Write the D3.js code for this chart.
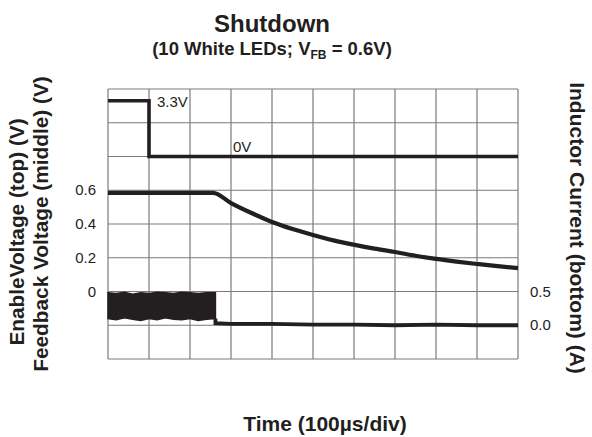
<!DOCTYPE html>
<html><head><meta charset="utf-8">
<script src="https://cdn.jsdelivr.net/npm/d3@7"></script>
<style>
html,body{margin:0;padding:0;background:#fff;}
svg text{font-family:"Liberation Sans",Arial,sans-serif;fill:#231f20;}
</style></head>
<body><svg id="c" width="592" height="437"></svg>
<script>
// ---- data (time in µs, 100 µs/div) ----
const gridTimes = [0,100,200,300,400,500,600,700,800,900,1000];
const enableTime = [0, 100, 100, 1000];
const enableVolt = [3.3, 3.3, 0, 0];
const fbTime = [0, 100, 200, 256, 300, 350, 400, 450, 500, 550, 602, 650, 700, 750, 800, 850, 900, 950, 1000];
const fbVolt = [0.585, 0.585, 0.585, 0.585, 0.524, 0.465, 0.412, 0.37, 0.335, 0.303, 0.276, 0.254, 0.234, 0.212, 0.193, 0.177, 0.163, 0.15, 0.139];
const burstTime = [0,20,40,60,80,100,120,140,160,180,200,220,240,262];
const burstHigh = [0.48,0.47,0.49,0.46,0.48,0.47,0.49,0.48,0.47,0.49,0.48,0.47,0.48,0.48];
const burstLow  = [0.10,0.08,0.11,0.09,0.07,0.10,0.08,0.11,0.09,0.08,0.10,0.07,0.09,0.10];
const offTime = [262, 300, 400, 500, 600, 700, 800, 900, 1000];
const offCurrent = [0.03, 0.02, 0.02, 0.01, 0.01, 0.0, 0.01, 0.0, 0.0];
const leftTicks = [0, 0.2, 0.4, 0.6];
const leftTickLabels = ["0", "0.2", "0.4", "0.6"];
const rightTicks = [0, 0.5];
const rightTickLabels = ["0.0", "0.5"];

const svg = d3.select("#c");
const L = 108, R = 518, T = 89, B = 359;
const x = d3.scaleLinear().domain([0,1000]).range([L,R]);
const yFB = d3.scaleLinear().domain([-0.4,1.2]).range([B,T]);
const yEN = d3.scaleLinear().domain([-12,4]).range([B,T]);
const yI  = d3.scaleLinear().domain([-0.5,3.5]).range([B,T]);
const gridDivs = d3.range(0,9);
const yDiv = d3.scaleLinear().domain([0,8]).range([T,B]);

// grid
const g = svg.append("g");
g.selectAll("line.v").data(gridTimes).join("line")
  .attr("x1", d=>x(d)).attr("x2", d=>x(d)).attr("y1",T).attr("y2",B)
  .attr("stroke","#7a7a7a").attr("stroke-width",1.2);
g.selectAll("line.h").data(gridDivs).join("line")
  .attr("y1", d=>yDiv(d)).attr("y2", d=>yDiv(d)).attr("x1",L).attr("x2",R)
  .attr("stroke","#7a7a7a").attr("stroke-width",1.2);

const ink = "#231f20";
// enable trace
const enData = enableTime.map((t,i)=>[t,enableVolt[i]]);
svg.append("path").attr("d", d3.line().x(d=>x(d[0])).y(d=>yEN(d[1]))(enData))
  .attr("fill","none").attr("stroke",ink).attr("stroke-width",3.6);
// feedback trace
const fbData = fbTime.map((t,i)=>[t,fbVolt[i]]);
svg.append("path").attr("d", d3.line().curve(d3.curveMonotoneX).x(d=>x(d[0])).y(d=>yFB(d[1]))(fbData))
  .attr("fill","none").attr("stroke",ink).attr("stroke-width",4.2);
// inductor current burst
const bData = burstTime.map((t,i)=>[t,burstHigh[i],burstLow[i]]);
svg.append("path").attr("d", d3.area().x(d=>x(d[0])).y0(d=>yI(d[2])).y1(d=>yI(d[1]))(bData))
  .attr("fill",ink).attr("stroke",ink).attr("stroke-width",1.5);
const oData = [[burstTime[burstTime.length-1], burstLow[burstLow.length-1]]].concat(offTime.map((t,i)=>[t,offCurrent[i]]));
svg.append("path").attr("d", d3.line().x(d=>x(d[0])).y(d=>yI(d[1]))(oData))
  .attr("fill","none").attr("stroke",ink).attr("stroke-width",3.8);

// tick labels
svg.selectAll("text.lt").data(leftTicks).join("text")
  .attr("x", 96).attr("y", d=>yFB(d)+5).attr("text-anchor","end")
  .attr("font-size",15).text((d,i)=>leftTickLabels[i]);
svg.selectAll("text.rt").data(rightTicks).join("text")
  .attr("x", 530).attr("y", d=>yI(d)+5).attr("text-anchor","start")
  .attr("font-size",15).text((d,i)=>rightTickLabels[i]);

// trace labels
svg.append("text").attr("x", 157).attr("y", yEN(3.3)+6).attr("font-size",15).text("3.3V");
svg.append("text").attr("x", 233).attr("y", yEN(0)-5).attr("font-size",15).text("0V");

// titles
svg.append("text").attr("x",272).attr("y",32).attr("text-anchor","middle")
  .attr("font-size",24).attr("font-weight","bold").text("Shutdown");
const st = svg.append("text").attr("x",272).attr("y",55).attr("text-anchor","middle")
  .attr("font-size",18.5).attr("font-weight","bold");
st.append("tspan").text("(10 White LEDs; V");
st.append("tspan").attr("font-size",12).attr("dy",4).text("FB");
st.append("tspan").attr("dy",-4).text(" = 0.6V)");

svg.append("text").attr("x",325).attr("y",431).attr("text-anchor","middle")
  .attr("font-size",21).attr("font-weight","bold").text("Time (100µs/div)");

svg.append("text").attr("transform","translate(24,232) rotate(-90)").attr("text-anchor","middle")
  .attr("font-size",20.8).attr("font-weight","bold").text("EnableVoltage (top) (V)");
svg.append("text").attr("transform","translate(48,224) rotate(-90)").attr("text-anchor","middle")
  .attr("font-size",20.8).attr("font-weight","bold").text("Feedback Voltage (middle) (V)");
svg.append("text").attr("transform","translate(570,228) rotate(90)").attr("text-anchor","middle")
  .attr("font-size",21).attr("font-weight","bold").text("Inductor Current (bottom) (A)");
</script></body></html>
